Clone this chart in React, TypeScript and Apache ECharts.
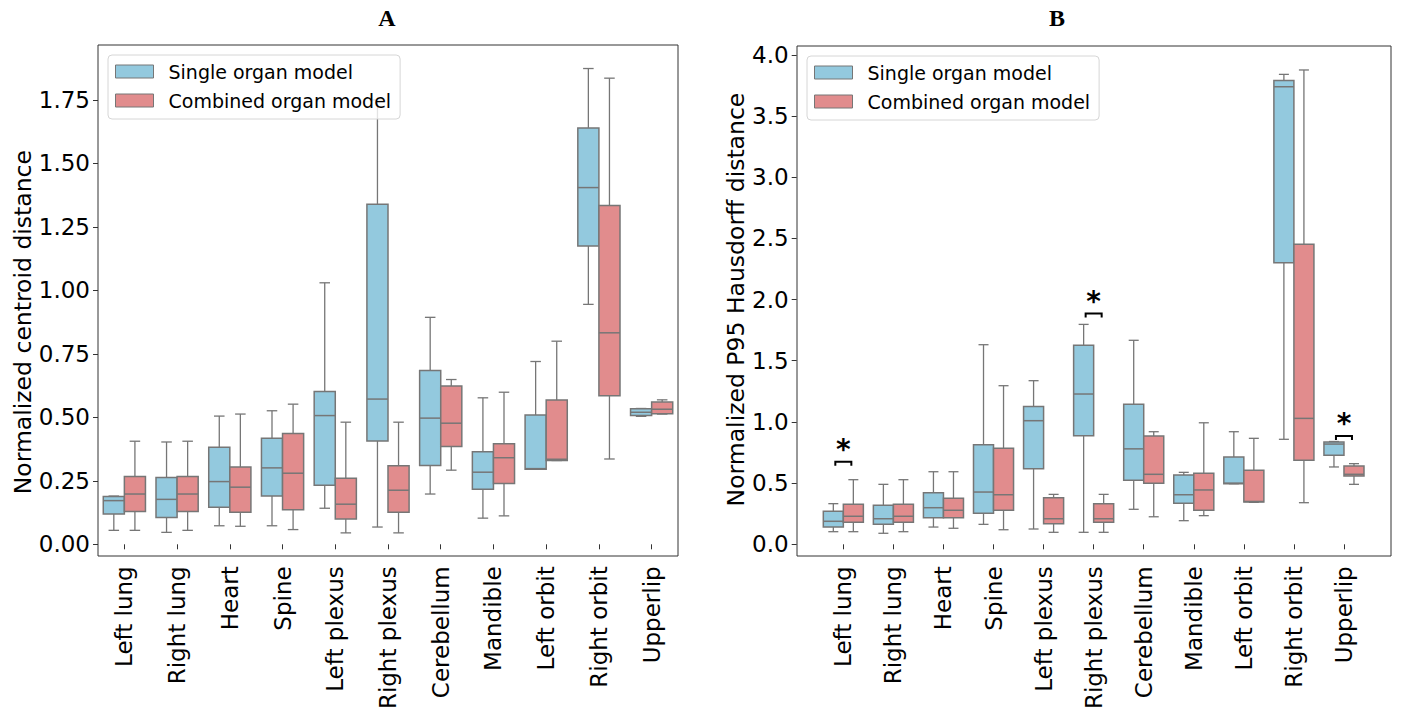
import React, { useEffect, useRef } from "react";
import * as echarts from "echarts";

const organs = [
  "Left lung", "Right lung", "Heart", "Spine", "Left plexus", "Right plexus",
  "Cerebellum", "Mandible", "Left orbit", "Right orbit", "Upperlip",
];

const seriesNames = ["Single organ model", "Combined organ model"];

// [min, q1, median, q3, max]
const centroidSingle = [
  [0.055, 0.119, 0.172, 0.188, 0.19],
  [0.047, 0.106, 0.177, 0.263, 0.403],
  [0.073, 0.146, 0.247, 0.382, 0.505],
  [0.073, 0.19, 0.301, 0.418, 0.526],
  [0.142, 0.233, 0.507, 0.602, 1.03],
  [0.068, 0.407, 0.572, 1.339, 1.75],
  [0.198, 0.31, 0.497, 0.685, 0.894],
  [0.103, 0.217, 0.284, 0.365, 0.577],
  [0.296, 0.296, 0.298, 0.509, 0.72],
  [0.945, 1.175, 1.405, 1.64, 1.874],
  [0.504, 0.507, 0.52, 0.534, 0.535],
];

const centroidCombined = [
  [0.055, 0.129, 0.198, 0.267, 0.406],
  [0.055, 0.129, 0.198, 0.267, 0.406],
  [0.071, 0.126, 0.225, 0.304, 0.513],
  [0.058, 0.136, 0.28, 0.436, 0.552],
  [0.045, 0.1, 0.158, 0.26, 0.481],
  [0.045, 0.126, 0.213, 0.309, 0.481],
  [0.292, 0.385, 0.477, 0.624, 0.649],
  [0.112, 0.239, 0.341, 0.396, 0.599],
  [0.33, 0.33, 0.335, 0.568, 0.8],
  [0.336, 0.585, 0.833, 1.334, 1.836],
  [0.513, 0.514, 0.532, 0.56, 0.569],
];

const hausdorffSingle = [
  [0.103, 0.141, 0.188, 0.27, 0.332],
  [0.09, 0.163, 0.209, 0.319, 0.49],
  [0.141, 0.217, 0.299, 0.422, 0.593],
  [0.163, 0.253, 0.427, 0.814, 1.631],
  [0.125, 0.618, 1.01, 1.127, 1.337],
  [0.098, 0.887, 1.228, 1.626, 1.797],
  [0.286, 0.523, 0.78, 1.144, 1.667],
  [0.193, 0.335, 0.405, 0.566, 0.588],
  [0.495, 0.495, 0.5, 0.713, 0.92],
  [0.858, 2.301, 3.739, 3.791, 3.84],
  [0.632, 0.727, 0.819, 0.836, 0.84],
];

const hausdorffCombined = [
  [0.103, 0.18, 0.229, 0.327, 0.528],
  [0.103, 0.18, 0.229, 0.327, 0.528],
  [0.131, 0.217, 0.278, 0.376, 0.593],
  [0.119, 0.278, 0.405, 0.784, 1.296],
  [0.098, 0.168, 0.209, 0.381, 0.408],
  [0.098, 0.18, 0.209, 0.332, 0.408],
  [0.225, 0.498, 0.572, 0.885, 0.92],
  [0.234, 0.278, 0.444, 0.58, 0.993],
  [0.343, 0.346, 0.35, 0.605, 0.866],
  [0.34, 0.686, 1.029, 2.451, 3.876],
  [0.49, 0.558, 0.572, 0.64, 0.659],
];

// significance markers on panel B
const sigOrgans = ["Left lung", "Right plexus", "Upperlip"];
const sigLevels = [0.675, 1.887, 0.885];
const sigLabel = "*";

const centroidTicks = { min: 0, max: 1.75, interval: 0.25 };
const hausdorffTicks = { min: 0, max: 4.0, interval: 0.5 };

const BLUE = "#93C9DE";
const RED = "#E18C8D";
const EDGE = "#767676";
const FONT = "DejaVu Sans";

function boxRenderer(side: number, fill: string) {
  return (params: any, api: any) => {
    const i = api.value(0);
    const band = api.size([1, 0])[0];
    const cx = api.coord([i, 0])[0] + side * band * 0.2;
    const w = band * 0.4;
    const py = (k: number) => api.coord([i, api.value(k)])[1];
    const ymin = py(1), yq1 = py(2), ymed = py(3), yq3 = py(4), ymax = py(5);
    const ls = { stroke: EDGE, lineWidth: 1.3 };
    return {
      type: "group",
      children: [
        { type: "line", shape: { x1: cx, y1: yq1, x2: cx, y2: ymin }, style: ls },
        { type: "line", shape: { x1: cx, y1: yq3, x2: cx, y2: ymax }, style: ls },
        { type: "line", shape: { x1: cx - w / 4, y1: ymin, x2: cx + w / 4, y2: ymin }, style: ls },
        { type: "line", shape: { x1: cx - w / 4, y1: ymax, x2: cx + w / 4, y2: ymax }, style: ls },
        {
          type: "rect",
          shape: { x: cx - w / 2, y: yq3, width: w, height: yq1 - yq3 },
          style: { fill, stroke: EDGE, lineWidth: 1.5 },
        },
        {
          type: "line",
          shape: { x1: cx - w / 2, y1: ymed, x2: cx + w / 2, y2: ymed },
          style: { stroke: EDGE, lineWidth: 1.5 },
        },
      ],
    };
  };
}

function sigRenderer(params: any, api: any) {
  const i = api.value(0);
  const band = api.size([1, 0])[0];
  const [cx, cy] = api.coord([i, api.value(1)]);
  const half = band * 0.16;
  return {
    type: "group",
    children: [
      {
        type: "polyline",
        shape: { points: [[cx - half, cy + 4], [cx - half, cy], [cx + half, cy], [cx + half, cy + 4]] },
        style: { stroke: "#000", lineWidth: 2, fill: "none" },
      },
      {
        type: "text",
        x: cx,
        y: cy - 12,
        style: {
          text: sigLabel,
          fontSize: 28,
          fontWeight: "bold",
          fontFamily: FONT,
          fill: "#000",
          textAlign: "center",
          textVerticalAlign: "middle",
        },
      },
    ],
  };
}

const toData = (arr: number[][]) => arr.map((v, i) => [i, ...v]);

function makeLegend(left: number, top: number) {
  return {
    orient: "vertical",
    left,
    top,
    itemWidth: 38,
    itemHeight: 13,
    itemGap: 10,
    padding: [7, 9, 9, 7],
    backgroundColor: "rgba(255,255,255,0.8)",
    borderColor: "#d6d6d6",
    borderWidth: 1,
    borderRadius: 4,
    selectedMode: false,
    textStyle: { fontSize: 19, fontFamily: FONT, color: "#000", lineHeight: 19, padding: [0, 0, 0, 10] },
    data: [
      { name: seriesNames[0], icon: "rect", itemStyle: { color: BLUE, borderColor: EDGE, borderWidth: 1 } },
      { name: seriesNames[1], icon: "rect", itemStyle: { color: RED, borderColor: EDGE, borderWidth: 1 } },
    ],
  };
}

function xAxisFor(gridIndex: number) {
  return {
    gridIndex,
    type: "category",
    data: organs,
    offset: 12,
    axisLine: { show: false },
    axisTick: { show: true, alignWithLabel: true, length: 5, lineStyle: { color: "#333" } },
    axisLabel: { rotate: 90, interval: 0, fontSize: 23, fontFamily: FONT, color: "#000", margin: 10 },
    splitLine: { show: false },
  };
}

function yAxisFor(gridIndex: number, ticks: any, name: string, digits: number, offset: number, nameGap: number) {
  return {
    gridIndex,
    type: "value",
    min: ticks.min,
    max: ticks.max,
    interval: ticks.interval,
    offset,
    axisLine: { show: false },
    axisTick: { show: true, length: 5, lineStyle: { color: "#333" } },
    splitLine: { show: false },
    axisLabel: {
      fontSize: 23,
      fontFamily: FONT,
      color: "#000",
      margin: 8,
      formatter: (v: number) => v.toFixed(digits),
    },
    name,
    nameLocation: "middle",
    nameGap,
    nameTextStyle: { fontSize: 23.5, fontFamily: FONT, color: "#000" },
  };
}

export default function App() {
  const ref = useRef<HTMLDivElement>(null);
  useEffect(() => {
    if (!ref.current) return;
    const chart = echarts.init(ref.current, undefined, { renderer: "svg" });
    const sigData = sigOrgans.map((o, k) => [organs.indexOf(o), sigLevels[k]]);
    const option: any = {
      animation: false,
      backgroundColor: "#fff",
      grid: [
        { left: 98, top: 100, width: 580, height: 444.3 },
        { left: 818.3, top: 54.8, width: 550.7, height: 489.5 },
      ],
      xAxis: [xAxisFor(0), xAxisFor(1)],
      yAxis: [
        yAxisFor(0, centroidTicks, "Normalized centroid distance", 2, 0, 62),
        yAxisFor(1, hausdorffTicks, "Normalized P95 Hausdorff distance", 1, 21.6, 49),
      ],
      legend: [makeLegend(108, 55), makeLegend(807, 56)],
      series: [
        {
          type: "custom", name: seriesNames[0], xAxisIndex: 0, yAxisIndex: 0, clip: false,
          itemStyle: { color: BLUE }, encode: { x: 0, y: [1, 2, 3, 4, 5] },
          renderItem: boxRenderer(-1, BLUE), data: toData(centroidSingle),
        },
        {
          type: "custom", name: seriesNames[1], xAxisIndex: 0, yAxisIndex: 0, clip: false,
          itemStyle: { color: RED }, encode: { x: 0, y: [1, 2, 3, 4, 5] },
          renderItem: boxRenderer(1, RED), data: toData(centroidCombined),
        },
        {
          type: "custom", name: seriesNames[0], xAxisIndex: 1, yAxisIndex: 1, clip: false,
          itemStyle: { color: BLUE }, encode: { x: 0, y: [1, 2, 3, 4, 5] },
          renderItem: boxRenderer(-1, BLUE), data: toData(hausdorffSingle),
        },
        {
          type: "custom", name: seriesNames[1], xAxisIndex: 1, yAxisIndex: 1, clip: false,
          itemStyle: { color: RED }, encode: { x: 0, y: [1, 2, 3, 4, 5] },
          renderItem: boxRenderer(1, RED), data: toData(hausdorffCombined),
        },
        {
          type: "custom", name: "significance", xAxisIndex: 1, yAxisIndex: 1, clip: false,
          encode: { x: 0, y: 1 }, renderItem: sigRenderer, data: sigData, silent: true,
        },
      ],
      graphic: [
        {
          type: "rect", z: 100, silent: true,
          shape: { x: 98, y: 45, width: 580, height: 511 },
          style: { fill: "none", stroke: "#333", lineWidth: 1 },
        },
        {
          type: "rect", z: 100, silent: true,
          shape: { x: 797, y: 46, width: 594, height: 510 },
          style: { fill: "none", stroke: "#333", lineWidth: 1 },
        },
        {
          type: "text", x: 387, y: 18, silent: true,
          style: { text: "A", font: 'bold 24px "Liberation Serif"', fill: "#000", textAlign: "center", textVerticalAlign: "middle" },
        },
        {
          type: "text", x: 1057, y: 18, silent: true,
          style: { text: "B", font: 'bold 24px "Liberation Serif"', fill: "#000", textAlign: "center", textVerticalAlign: "middle" },
        },
      ],
    };
    chart.setOption(option);
    return () => chart.dispose();
  }, []);
  return (
    <div
      ref={ref}
      style={{ position: "absolute", left: 0, top: 0, width: 1401, height: 713, background: "#fff" }}
    />
  );
}
